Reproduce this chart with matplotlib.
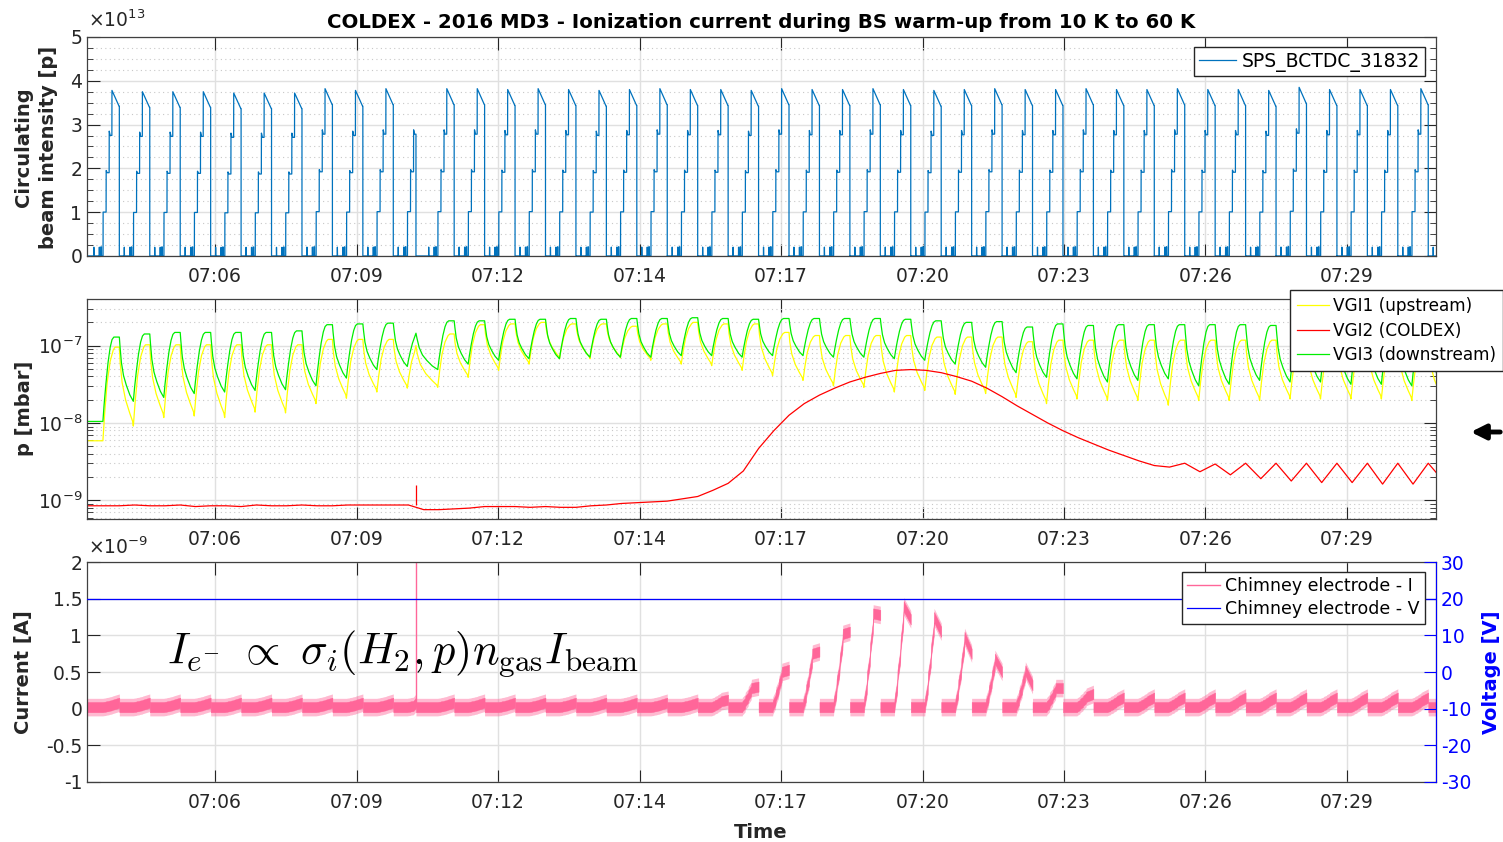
import numpy as np
import matplotlib
matplotlib.use('Agg')
import matplotlib.pyplot as plt
from matplotlib.ticker import MultipleLocator, FuncFormatter, LogLocator, NullFormatter
from matplotlib.lines import Line2D
from matplotlib.patches import FancyArrowPatch

plt.rcParams['font.family'] = ['DejaVu Sans']
plt.rcParams['mathtext.fontset'] = 'custom'
plt.rcParams['mathtext.rm'] = 'DejaVu Sans'
plt.rcParams['mathtext.it'] = 'DejaVu Sans:italic'
plt.rcParams['mathtext.bf'] = 'DejaVu Sans:bold'
plt.rcParams['axes.unicode_minus'] = False

# ---- time axis (minutes after 07:00) ----
tick_pos = [5.800, 8.675, 11.550, 14.425, 17.300, 20.175, 23.050, 25.925, 28.800]
tick_labels = ['07:06', '07:09', '07:12', '07:14', '07:17', '07:20', '07:23', '07:26', '07:29']
t_first, t_last = 3.199, 30.608

# SPS supercycle
cycle_period = 0.6185
first_cycle_start = 3.237
n_cyc = 45
dump_phase = [1.0] * 10 + [0.745] + [1.0] * 34   # cycle 10 dumped after 3 injections

# ---- beam intensity (x1e13 p), peak of each cycle ----
beam_peak = [3.78, 3.75, 3.75, 3.75, 3.72, 3.72, 3.72, 3.82, 3.78, 3.82,
             3.82, 3.82, 3.82, 3.80, 3.82, 3.80, 3.78, 3.80, 3.82, 3.80,
             3.80, 3.78, 3.82, 3.80, 3.80, 3.82, 3.80, 3.78, 3.80, 3.82,
             3.80, 3.80, 3.82, 3.80, 3.80, 3.82, 3.80, 3.80, 3.78, 3.85,
             3.80, 3.80, 3.80, 3.82, 3.80]
# shape of one cycle: (phase, fraction of peak)
beam_shape = [(0.0, 0.0), (0.160, 0.0), (0.163, 0.053), (0.168, 0.0),
              (0.340, 0.0), (0.343, 0.053), (0.348, 0.0), (0.390, 0.0),
              (0.393, 0.055), (0.412, 0.055), (0.415, 0.0), (0.465, 0.0),
              (0.468, 0.265), (0.565, 0.265), (0.568, 0.516), (0.600, 0.503),
              (0.665, 0.503), (0.668, 0.754), (0.700, 0.728), (0.755, 0.728),
              (0.758, 1.0), (0.990, 0.905)]

# ---- pressures, log10(p/mbar): trough before injection, peak at dump ----
green_lo = [-7.98, -7.72, -7.67, -7.62, -7.60, -7.58, -7.57, -7.52, -7.42, -7.31,
            -7.27, -7.31, -7.24, -7.19, -7.17, -7.17, -7.15, -7.15, -7.15, -7.13,
            -7.13, -7.15, -7.13, -7.13, -7.15, -7.15, -7.17, -7.19, -7.24, -7.28,
            -7.35, -7.41, -7.43, -7.47, -7.45, -7.43, -7.52, -7.50, -7.45, -7.47,
            -7.47, -7.50, -7.50, -7.52, -7.50]
green_hi = [-6.89, -6.85, -6.83, -6.83, -6.83, -6.83, -6.81, -6.73, -6.72, -6.71,
            -6.84, -6.68, -6.68, -6.66, -6.66, -6.65, -6.66, -6.65, -6.65, -6.64,
            -6.65, -6.66, -6.65, -6.65, -6.65, -6.65, -6.66, -6.68, -6.70, -6.69,
            -6.76, -6.72, -6.74, -6.73, -6.73, -6.73, -6.73, -6.73, -6.74, -6.75,
            -6.75, -6.75, -6.75, -6.75, -6.75]
yellow_lo = [-8.23, -8.04, -7.93, -7.91, -7.93, -7.86, -7.87, -7.75, -7.68, -7.60,
             -7.55, -7.54, -7.41, -7.32, -7.24, -7.17, -7.17, -7.16, -7.19, -7.24,
             -7.26, -7.32, -7.39, -7.45, -7.52, -7.54, -7.60, -7.58, -7.63, -7.62,
             -7.67, -7.75, -7.69, -7.71, -7.71, -7.77, -7.71, -7.71, -7.71, -7.69,
             -7.69, -7.69, -7.69, -7.71, -7.70]
yellow_hi = [-7.02, -6.99, -6.99, -6.99, -6.99, -6.99, -6.99, -6.92, -6.92, -6.92,
             -7.00, -6.85, -6.73, -6.72, -6.70, -6.72, -6.72, -6.75, -6.72, -6.70,
             -6.72, -6.72, -6.83, -6.87, -6.87, -6.87, -6.87, -6.89, -6.89, -6.89,
             -6.95, -6.93, -6.93, -6.93, -6.93, -6.93, -6.93, -6.93, -6.93, -6.93,
             -6.93, -6.93, -6.93, -6.93, -6.93]
# VGI2 at mid-cycle and at dump
red_mid = [-9.07, -9.06, -9.07, -9.08, -9.07, -9.06, -9.07, -9.07, -9.06, -9.06,
           -9.06, -9.12, -9.10, -9.08, -9.09, -9.09, -9.07, -9.04, -9.02, -8.98,
           -8.87, -8.62, -8.10, -7.75, -7.55, -7.41, -7.32, -7.32, -7.40, -7.55,
           -7.78, -8.00, -8.19, -8.35, -8.49, -8.57, -8.63, -8.67, -8.72, -8.75,
           -8.77, -8.77, -8.79, -8.79, -8.75]
red_drop = [-9.07, -9.07, -9.06, -9.07, -9.08, -9.07, -9.06, -9.07, -9.06, -9.06,
            -9.12, -9.11, -9.08, -9.08, -9.08, -9.09, -9.06, -9.03, -9.01, -8.95,
            -8.78, -8.33, -7.90, -7.64, -7.47, -7.36, -7.31, -7.35, -7.46, -7.66,
            -7.89, -8.10, -8.27, -8.42, -8.55, -8.52, -8.53, -8.52, -8.52, -8.52,
            -8.52, -8.52, -8.52, -8.52, -8.52]
red_spike = -8.80   # beam loss at the early dump

# (fraction of dump->trough interval, weight) and (cycle phase, weight)
green_decay = [(0.0, 1.0), (0.05, 0.85), (0.15, 0.6), (0.3, 0.4), (0.5, 0.25), (0.75, 0.1), (1.0, 0.0)]
green_rise = [(0.50, 0.2), (0.56, 0.45), (0.63, 0.7), (0.70, 0.88), (0.76, 0.97), (0.82, 1.0)]
yellow_decay = [(0.0, 1.0), (0.06, 0.8), (0.2, 0.55), (0.45, 0.33), (0.75, 0.16), (0.95, 0.06), (1.0, 0.0)]
yellow_rise = [(0.52, 0.3), (0.60, 0.62), (0.70, 0.85), (0.80, 0.97), (0.86, 1.0)]

# ---- electrode current (x1e-9 A) ----
cur_base = [0.02] * 45
cur_peak = [0.05] * 20 + [0.10, 0.28, 0.50, 0.75, 1.02, 1.30, 1.40, 1.25, 0.98, 0.68,
                          0.52, 0.28, 0.16] + [0.10] * 12
cur_end = [0.08] * 20 + [0.12, 0.30, 0.53, 0.78, 1.05, 1.28, 1.22, 1.05, 0.75, 0.50,
                         0.32, 0.28, 0.20] + [0.15] * 12
cur_spike = 2.6
cur_shape = [(0.470, 0.05), (0.555, 0.2), (0.565, 0.32), (0.655, 0.5), (0.665, 0.62),
             (0.755, 0.85), (0.765, 1.0)]
noise_core, noise_outer = 0.07, 0.12   # half-widths of the noise band
volt_t = [t_first, t_last]
volt_v = [20, 20]

P = cycle_period
cycle_start = first_cycle_start + P * np.arange(n_cyc)
dump_t = cycle_start + P * np.array(dump_phase)


def beam_series():
    ts, vs = [t_first], [0.0]
    for c in range(n_cyc):
        for ph, f in beam_shape:
            if ph >= dump_phase[c]:
                break
            ts.append(cycle_start[c] + ph * P)
            vs.append(f * beam_peak[c])
        ts += [dump_t[c], dump_t[c]]
        vs += [vs[-1], 0.0]
    return np.array(ts), np.array(vs)


def pressure_series(lo, hi, decay, rise):
    ts, ys = [t_first - 0.05], [lo[0]]
    prev_t, prev_hi = t_first - 0.05, lo[0]
    for c in range(n_cyc):
        tt = cycle_start[c] + 0.46 * P
        for f, w in decay:
            ts.append(prev_t + f * (tt - prev_t))
            ys.append(lo[c] + w * (prev_hi - lo[c]))
        for ph, w in rise:
            if ph >= dump_phase[c]:
                break
            ts.append(cycle_start[c] + ph * P)
            ys.append(lo[c] + w * (hi[c] - lo[c]))
        ts.append(dump_t[c])
        ys.append(hi[c])
        prev_t, prev_hi = dump_t[c], hi[c]
    return np.array(ts), 10 ** np.array(ys)


def red_series():
    ts, ys = [t_first - 0.05], [red_mid[0]]
    for c in range(n_cyc):
        ts += [cycle_start[c] + 0.5 * P, cycle_start[c] + P]
        ys += [red_mid[c], red_drop[c]]
    return np.array(ts), 10 ** np.array(ys)


def current_cycle(c):
    # one cycle of the electrode current, from the previous dump to this dump
    t0 = dump_t[c - 1] if c > 0 else t_first - 0.05
    ts = [t0, cycle_start[c] + 0.46 * P]
    vs = [cur_base[c], cur_base[c]]
    for ph, w in cur_shape:
        if ph >= dump_phase[c]:
            break
        ts.append(cycle_start[c] + ph * P)
        vs.append(cur_base[c] + w * (cur_peak[c] - cur_base[c]))
    ts.append(dump_t[c])
    vs.append(cur_end[c])
    return np.array(ts), np.array(vs)


fig = plt.figure(figsize=(15.03, 8.42), dpi=100)
ax1 = fig.add_axes([0.0579, 0.6960, 0.8975, 0.2601])
ax2 = fig.add_axes([0.0579, 0.3840, 0.8975, 0.2609])
ax3 = fig.add_axes([0.0579, 0.0716, 0.8975, 0.2606])

dark = '#262626'


def style(ax, right=True):
    ax.set_xlim(t_first, t_last)
    ax.set_xticks(tick_pos)
    ax.set_xticklabels(tick_labels)
    ax.tick_params(which='major', direction='in', length=9, width=0.8, color=dark,
                   top=True, right=right, labelsize=13.5, labelcolor=dark)
    ax.tick_params(axis='x', pad=8)
    ax.tick_params(which='minor', direction='in', length=4, width=0.6, color=dark,
                   top=False, right=right)
    ax.grid(True, which='major', color='#e0e0e0', lw=1.0)
    ax.set_axisbelow(True)
    for sp in ax.spines.values():
        sp.set_color('#404040')
        sp.set_linewidth(0.9)


# top panel: beam
bt, bv = beam_series()
ax1.plot(bt, bv, color='#0072BD', lw=0.9, label='SPS_BCTDC_31832')
style(ax1)
ax1.set_ylim(0, 5)
ax1.yaxis.set_major_locator(MultipleLocator(1))
ax1.yaxis.set_minor_locator(MultipleLocator(0.25))
ax1.yaxis.set_major_formatter(FuncFormatter(lambda v, p: '%g' % v))
ax1.grid(True, which='minor', axis='y', color='#c8c8c8', lw=0.8, ls=(0, (1, 3)))
ax1.legend(loc='upper right', bbox_to_anchor=(1425 / 1503, 1 - 47 / 842),
           bbox_transform=fig.transFigure, fontsize=13.5, fancybox=False,
           edgecolor=dark, framealpha=1, borderpad=0.25, handlelength=2.0,
           handletextpad=0.3, borderaxespad=0)
fig.text(88 / 1503, 1 - 20 / 842, r'$\times10^{13}$', fontsize=13.5, color=dark,
         ha='left', va='center')

# middle panel: pressures
yt, yv = pressure_series(yellow_lo, yellow_hi, yellow_decay, yellow_rise)
gt, gv = pressure_series(green_lo, green_hi, green_decay, green_rise)
rt, rv = red_series()
ax2.plot(yt, yv, color='#ffff00', lw=0.9, label='VGI1 (upstream)')
ax2.plot(rt, rv, color='#ff0000', lw=0.9, label='VGI2 (COLDEX)')
ax2.plot(gt, gv, color='#00ee00', lw=0.9, label='VGI3 (downstream)')
ax2.vlines(dump_t[10], 10 ** red_drop[9], 10 ** red_spike, color='#ff0000', lw=0.9)
ax2.set_yscale('log')
style(ax2)
ax2.set_ylim(5.8e-10, 4e-7)
ax2.yaxis.set_major_locator(LogLocator(base=10, numticks=10))
ax2.yaxis.set_minor_locator(LogLocator(base=10, subs=np.arange(2, 10), numticks=20))
ax2.yaxis.set_minor_formatter(NullFormatter())
ax2.grid(True, which='minor', axis='y', color='#c8c8c8', lw=0.8, ls=(0, (1, 3)))
ax2.legend(loc='upper left', bbox_to_anchor=(1290 / 1503, 1 - 290 / 842),
           bbox_transform=fig.transFigure, fontsize=12.2, fancybox=False,
           edgecolor=dark, framealpha=1, borderpad=0.4, handlelength=1.9,
           handletextpad=0.25, borderaxespad=0, labelspacing=0.4)

# bottom panel: current and voltage
pink = '#ff6699'
for c in range(n_cyc):
    ct, cv = current_cycle(c)
    ax3.fill_between(ct, cv - noise_outer, cv + noise_outer, color=pink, alpha=0.45, lw=0)
    ax3.fill_between(ct, cv - noise_core, cv + noise_core, color=pink, lw=0.3,
                     edgecolor=pink)
ax3.vlines(dump_t[10], cur_base[10], cur_spike, color=pink, lw=1.0)
style(ax3, right=False)
ax3.set_ylim(-1, 2)
ax3.yaxis.set_major_locator(MultipleLocator(0.5))
ax3.yaxis.set_major_formatter(FuncFormatter(lambda v, p: '%g' % v))
fig.text(88 / 1503, 1 - 547 / 842, r'$\times10^{-9}$', fontsize=13.5, color=dark,
         ha='left', va='center')
ax3.text(0.0593, 0.585, r'$I_{e^{-}}\ \propto\ \sigma_i(H_2,p)n_{\rm gas}I_{\rm beam}$',
         transform=ax3.transAxes, fontsize=32, math_fontfamily='cm', ha='left', va='center')

ax3r = ax3.twinx()
ax3r.plot(volt_t, volt_v, color='#0000ff', lw=0.9)
ax3r.set_ylim(-30, 30)
ax3r.yaxis.set_major_locator(MultipleLocator(10))
ax3r.tick_params(direction='in', length=9, width=0.8, colors='#0000ff', labelsize=13.5)
ax3r.spines['right'].set_color('#0000ff')
for k in ['left', 'top', 'bottom']:
    ax3r.spines[k].set_visible(False)
ax3r.set_ylabel('Voltage [V]', color='#0000ff', fontsize=14, fontweight='bold', labelpad=8)
handles = [Line2D([], [], color=pink, lw=1), Line2D([], [], color='#0000ff', lw=0.9)]
ax3r.legend(handles, ['Chimney electrode - I', 'Chimney electrode - V'],
            loc='upper right', bbox_to_anchor=(1425 / 1503, 1 - 572 / 842),
            bbox_transform=fig.transFigure, fontsize=12.5, fancybox=False,
            edgecolor=dark, framealpha=1, borderpad=0.3, handlelength=1.9,
            handletextpad=0.3, borderaxespad=0, labelspacing=0.3)

# labels
fig.text(36 / 1503, 1 - 147 / 842, 'Circulating\nbeam intensity [p]', rotation=90,
         ha='center', va='center', fontsize=14, fontweight='bold', color=dark,
         linespacing=1.45)
fig.text(25 / 1503, 1 - 408 / 842, 'p [mbar]', rotation=90, ha='center', va='center',
         fontsize=14, fontweight='bold', color=dark)
fig.text(24 / 1503, 1 - 672 / 842, 'Current [A]', rotation=90, ha='center', va='center',
         fontsize=14, fontweight='bold', color=dark)
fig.text(761 / 1503, 1 - 832 / 842, 'Time', ha='center', va='center',
         fontsize=14, fontweight='bold', color=dark)
fig.text(761 / 1503, 1 - 22 / 842,
         'COLDEX - 2016 MD3 - Ionization current during BS warm-up from 10 K to 60 K',
         ha='center', va='center', fontsize=14.2, fontweight='bold', color='black')

# arrow at the right of the pressure panel
fig.add_artist(FancyArrowPatch(
    (1503 / 1503, 1 - 432 / 842), (1468 / 1503, 1 - 432 / 842),
    transform=fig.transFigure, arrowstyle='-|>', mutation_scale=22, lw=3.5, color='black'))

fig.savefig('out.png', dpi=100)
